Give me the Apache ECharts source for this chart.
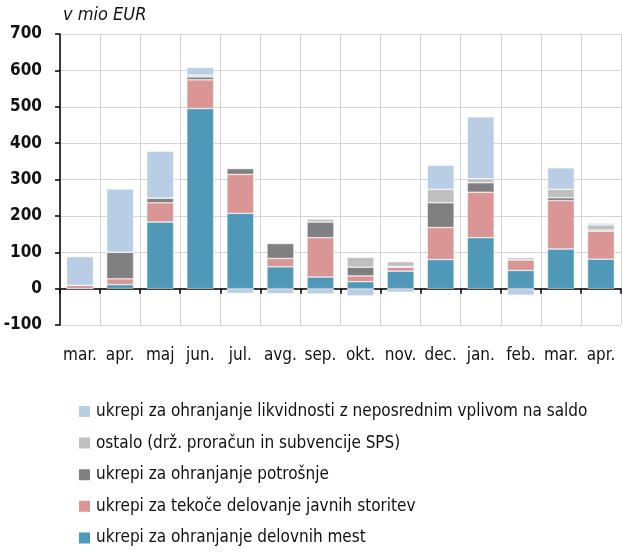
<!DOCTYPE html>
<html>
<head>
<meta charset="utf-8">
<script src="https://cdn.jsdelivr.net/npm/echarts@6/dist/echarts.min.js"></script>
<style>
  html, body { margin: 0; padding: 0; background: #fff; }
  #chart { width: 622px; height: 554px; }
</style>
</head>
<body>
<div id="chart"></div>
<script>
// podatki (v mio EUR)
var months = ['mar.', 'apr.', 'maj', 'jun.', 'jul.', 'avg.', 'sep.', 'okt.', 'nov.', 'dec.', 'jan.', 'feb.', 'mar.', 'apr.'];
var delovnaMesta = [0, 11, 183, 495, 207, 60, 32, 19, 48, 80, 140, 50, 109, 81];
var javneStoritve = [9, 16, 53, 79, 107, 23, 108, 16, 11, 88, 125, 29, 133, 77];
var potrosnja = [0, 73, 13, 8, 16, 41, 43, 24, 2, 68, 26, 0, 8, 3];
var ostalo = [0, 0, 0, 5, 2, 2, 8, 27, 13, 37, 11, 6, 23, 14];
var likvidnost = [79, 174, 129, 21, -13, -14, -15, -20, -10, 66, 170, -18, 59, 5];
var yTicks = [-100, 0, 100, 200, 300, 400, 500, 600, 700];

var names = [
  'ukrepi za ohranjanje delovnih mest',
  'ukrepi za tekoče delovanje javnih storitev',
  'ukrepi za ohranjanje potrošnje',
  'ostalo (drž. proračun in subvencije SPS)',
  'ukrepi za ohranjanje likvidnosti z neposrednim vplivom na saldo'
];
var colors = ['#4f98b8', '#d99694', '#808080', '#bfbfbf', '#b9cde5'];
var values = [delovnaMesta, javneStoritve, potrosnja, ostalo, likvidnost];

var font = "'Liberation Sans Narrow', 'DejaVu Sans Condensed', sans-serif";

var series = names.map(function (n, i) {
  return {
    name: n,
    type: 'bar',
    stack: 'total',
    barCategoryGap: '33%',
    itemStyle: { color: colors[i], borderColor: '#ffffff', borderWidth: 0.5 },
    data: values[i]
  };
});

var myChart = echarts.init(document.getElementById('chart'));
myChart.setOption({
  animation: false,
  textStyle: { fontFamily: font },
  graphic: [{
    type: 'text',
    left: 63,
    top: 6,
    style: { text: 'v mio EUR', fontFamily: font, fontSize: 18, fontStyle: 'italic', fill: '#111' }
  }],
  grid: { left: 60, right: 1, top: 34, bottom: 229, containLabel: false },
  xAxis: {
    type: 'category',
    data: months,
    axisLine: { onZero: true, lineStyle: { color: '#000', width: 1.5 } },
    axisTick: { show: true, interval: 0, length: 5, inside: false, lineStyle: { color: '#000', width: 1.5 } },
    axisLabel: { interval: 0, color: '#111', fontSize: 17, fontFamily: font, margin: 22 },
    splitLine: { show: true, interval: 0, lineStyle: { color: '#d4d4d4', width: 1 } }
  },
  yAxis: {
    type: 'value',
    min: yTicks[0],
    max: yTicks[yTicks.length - 1],
    interval: 100,
    axisLine: { show: true, lineStyle: { color: '#000', width: 1.5 } },
    axisTick: { show: true, length: 5, lineStyle: { color: '#000', width: 1.5 } },
    axisLabel: { color: '#111', fontSize: 17, fontWeight: 'bold', fontFamily: font, margin: 18 },
    splitLine: { show: true, lineStyle: { color: '#d4d4d4', width: 1 } }
  },
  legend: {
    orient: 'vertical',
    left: 72,
    top: 398,
    itemWidth: 13,
    itemHeight: 13,
    itemGap: 14.6,
    icon: 'rect',
    data: names.slice().reverse(),
    textStyle: { fontSize: 17, color: '#111', fontFamily: font, padding: [0, 0, 0, 0] }
  },
  series: series
});
</script>
</body>
</html>
